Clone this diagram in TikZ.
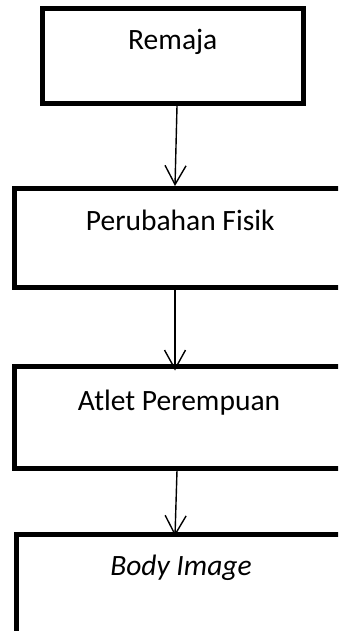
\documentclass[tikz,border=0pt]{standalone}
\usepackage{fontspec}
\setmainfont{Carlito}
\usetikzlibrary{arrows.meta}
\begin{document}
\begin{tikzpicture}[x=1pt,y=-1pt,
  flowbox/.style={draw=black,line width=5pt,rectangle,inner sep=0pt,
    font=\fontsize{29.5}{34}\selectfont},
  arr/.style={line width=1.4pt,-{Straight Barb[length=19pt,width=21pt]}}]
\useasboundingbox (0,0) rectangle (338,631);
\clip (0,0) rectangle (338,631);
\node[flowbox,minimum width=261.5pt,minimum height=94.5pt,
  text height=41pt,text depth=53.5pt] (b1) at (172.75,56.25) {Remaja};
\node[flowbox,minimum width=331.5pt,minimum height=99pt,
  text height=42.2pt,text depth=56.8pt] (b2) at (180.25,238) {Perubahan Fisik};
\node[flowbox,minimum width=329pt,minimum height=102pt,
  text height=44pt,text depth=58pt] (b3) at (179,417) {Atlet Perempuan};
\node[flowbox,minimum width=329.5pt,minimum height=115.5pt,
  text height=40.5pt,text depth=75pt] (b4) at (181,592.25) {\itshape Body Image};
\draw[arr] ([xshift=4.25pt]b1.south) -- ([xshift=-5.25pt]b2.north);
\draw[arr] ([xshift=-5.25pt]b2.south) -- ([xshift=-4pt,yshift=-7pt]b3.north);
\draw[arr] ([xshift=-2pt]b3.south) -- ([xshift=-6pt,yshift=-4pt]b4.north);
\end{tikzpicture}
\end{document}
